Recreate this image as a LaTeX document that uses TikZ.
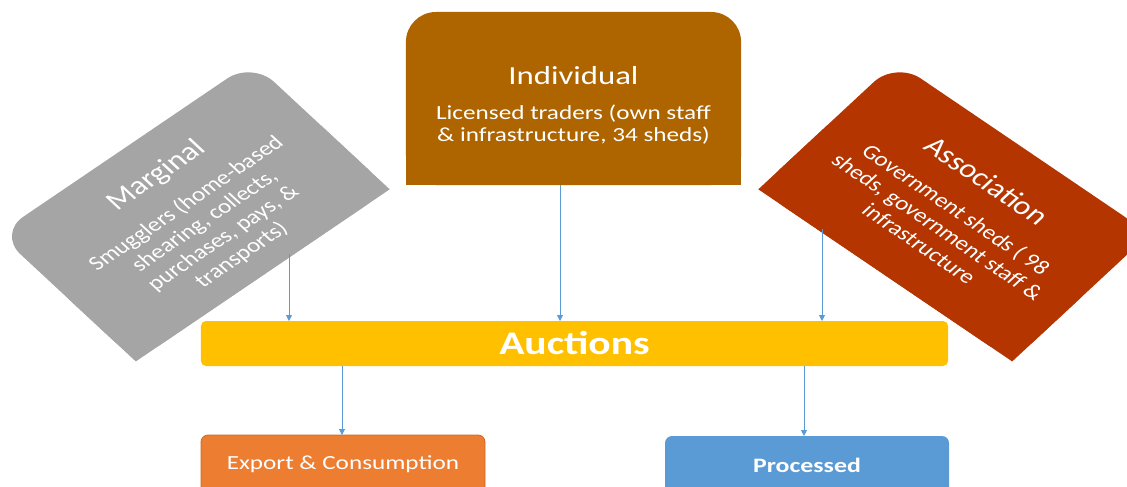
\documentclass[tikz,border=0pt]{standalone}
\usepackage{fontspec}
\setmainfont{Carlito}
\usetikzlibrary{arrows.meta,backgrounds}
\definecolor{margc}{RGB}{165,165,165}
\definecolor{indc}{RGB}{174,101,0}
\definecolor{assc}{RGB}{180,53,0}
\definecolor{aucc}{RGB}{255,192,0}
\definecolor{expc}{RGB}{237,125,49}
\definecolor{expb}{RGB}{205,105,40}
\definecolor{proc}{RGB}{91,155,213}
\definecolor{arrc}{RGB}{91,155,213}
\newcommand{\ttl}[1]{{\fontsize{26}{26}\selectfont #1}}
\begin{document}
\begin{tikzpicture}[x=1pt,y=-1pt,
  stretch/.style={xscale=1.26},
  shapebox/.style={stretch, inner sep=0pt, outer sep=0pt},
  shapetext/.style={stretch, text=white, align=center, font=\fontsize{20}{22.5}\selectfont, inner sep=0pt, outer sep=0pt},
  arr/.style={draw=arrc, line width=0.75pt, -{Triangle[width=6pt,length=6pt]}},
  bar/.style={stretch, inner sep=0pt, outer sep=0pt, text=white}
]
\clip (0,0) rectangle (1127,487);

% three upper shapes (outline nodes; fills drawn on background layer)
\node[shapebox, rotate=40.5, minimum width=265pt, minimum height=168pt] (marg) at (194,211.5) {};
\node[shapebox, minimum width=266pt, minimum height=173pt] (ind) at (573.5,98.5) {};
\node[shapebox, rotate=-40.5, minimum width=265pt, minimum height=168pt] (ass) at (954,211.5) {};

\node[shapetext, rotate=40.5] (margt) at ([xshift=4pt,yshift=-3pt]marg.center)
  {\ttl{Marginal}\\[13pt]Smugglers (home-based\\shearing, collects,\\purchases, pays, \&\\transports)};
\node[shapetext] (indt) at ([yshift=-7pt]ind.center)
  {\ttl{Individual}\\[12pt]Licensed traders (own staff\\\& infrastructure, 34 sheds)};
\node[shapetext, rotate=-40.5] (asst) at (ass.center)
  {\ttl{Association}\\[13pt]Government sheds ( 98\\sheds, government staff \&\\infrastructure};

\begin{pgfonlayer}{background}
  \fill[margc, rounded corners=30pt] (marg.south west) -- (marg.north west) -- (marg.north east) -- (marg.south east) -- cycle;
  \fill[margc] (marg.west) -- (marg.south west) -- (marg.south east) -- (marg.east) -- cycle;
  \fill[indc, rounded corners=30pt] (ind.south west) -- (ind.north west) -- (ind.north east) -- (ind.south east) -- cycle;
  \fill[indc] (ind.west) -- (ind.south west) -- (ind.south east) -- (ind.east) -- cycle;
  \fill[assc, rounded corners=30pt] (ass.south west) -- (ass.north west) -- (ass.north east) -- (ass.south east) -- cycle;
  \fill[assc] (ass.west) -- (ass.south west) -- (ass.south east) -- (ass.east) -- cycle;
\end{pgfonlayer}

% auctions bar and outputs
\node[bar, fill=aucc, rounded corners=5pt, minimum width=592.9pt, minimum height=45pt,
      font=\fontsize{33}{33}\selectfont\bfseries] (auc) at (574.5,343.5) {Auctions};
\node[bar, fill=expc, draw=expb, line width=0.8pt, rounded corners=7pt, minimum width=225.4pt, minimum height=58pt,
      font=\fontsize{20}{20}\selectfont] (exp) at (343,464) {Export \& Consumption};
\node[bar, fill=proc, rounded corners=7pt, minimum width=225.4pt, minimum height=58pt,
      font=\fontsize{20.5}{20.5}\selectfont\bfseries] (pro) at (807,465) {Processed};

% connector anchor points
\coordinate (ms) at (289,254);
\coordinate (ic) at (560,0);
\coordinate (as) at (822,229);
\coordinate (bl) at (342,0);
\coordinate (br) at (804,0);

\draw[arr] (ms) -- (auc.north -| ms);
\draw[arr] (ind.south -| ic) -- (auc.north -| ic);
\draw[arr] (as) -- (auc.north -| as);
\draw[arr] (auc.south -| bl) -- (exp.north -| bl);
\draw[arr] (auc.south -| br) -- (pro.north -| br);
\end{tikzpicture}
\end{document}
